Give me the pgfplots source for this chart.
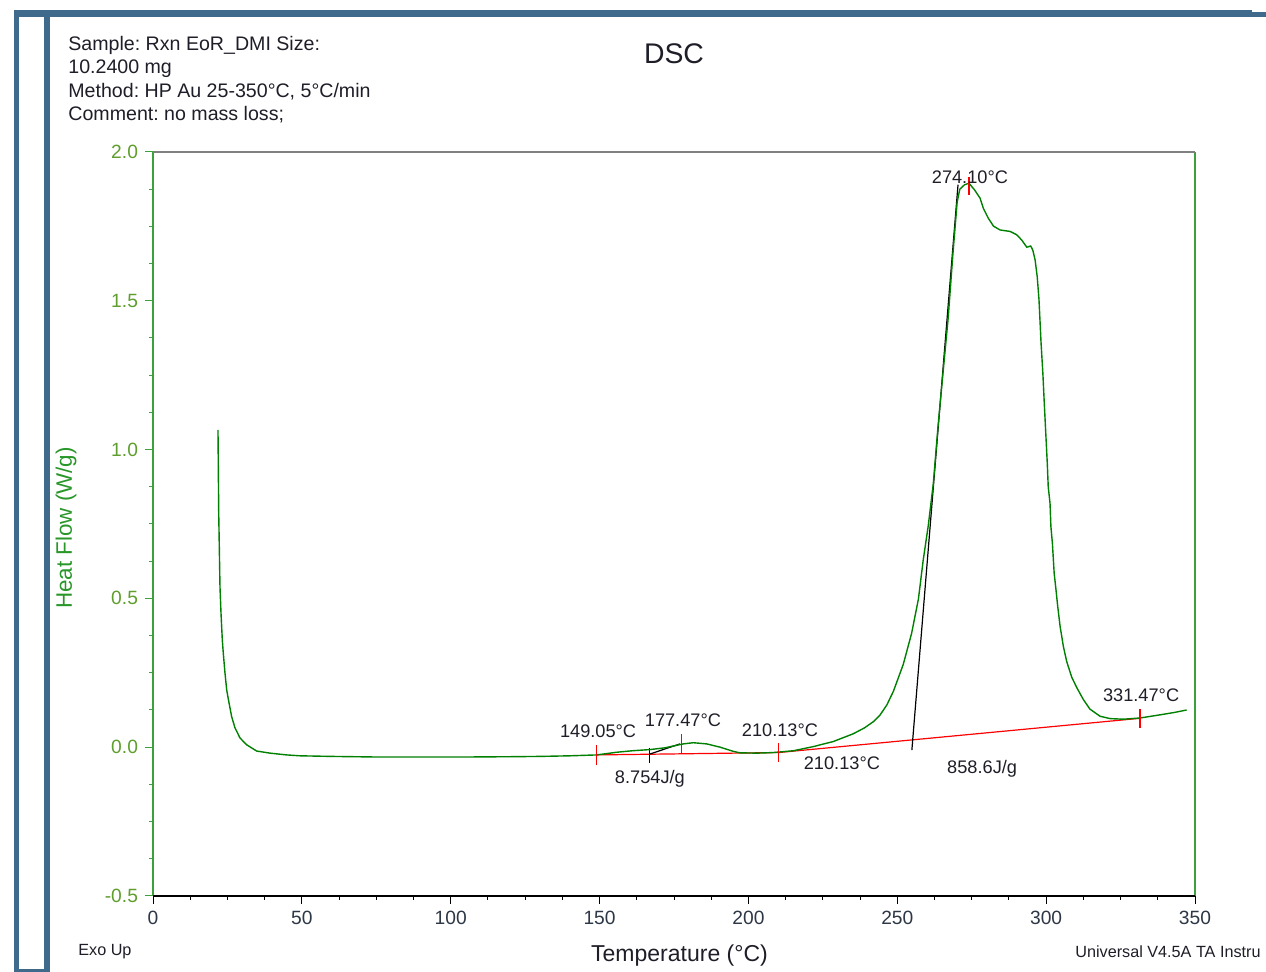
\documentclass[border=0pt]{standalone}
\usepackage{fontspec}
\setmainfont{Liberation Sans}
\usepackage{pgfplots}
\pgfplotsset{compat=1.18}
\definecolor{frameblue}{RGB}{63,106,139}
\definecolor{curvegreen}{RGB}{0,128,0}
\definecolor{axgreen}{RGB}{60,160,60}
\definecolor{lblgreen}{RGB}{40,150,40}
\definecolor{tickgreen}{RGB}{95,158,45}
\definecolor{txt}{RGB}{30,30,40}
\definecolor{xtl}{RGB}{45,55,70}
\definecolor{mred}{RGB}{255,0,0}
\frenchspacing
\begin{document}
\begin{tikzpicture}
\path[use as bounding box] (0,0) rectangle (633pt,486pt);
\clip (0,0) rectangle (633pt,486pt);
% frame
\fill[frameblue] (7pt,477.5pt) rectangle (626pt,481pt);
\fill[frameblue] (626pt,477.5pt) rectangle (633pt,480pt);
\fill[frameblue] (7pt,0pt) rectangle (9.5pt,481pt);
\fill[frameblue] (22pt,0pt) rectangle (25pt,481pt);
\fill[frameblue] (7pt,0pt) rectangle (25pt,1.5pt);
\begin{axis}[
  at={(76.5pt,38pt)}, anchor=south west,
  scale only axis, width=521pt, height=372pt,
  xmin=0, xmax=350, ymin=-0.5, ymax=2,
  axis line style={draw=none},
  xtick={0,50,...,350}, ytick={-0.5,0,0.5,1,1.5,2},
  minor x tick num=3, minor y tick num=3,
  xtick pos=bottom, ytick pos=left,
  tick align=outside,
  major tick length=4pt, minor tick length=1.8pt,
  xtick style={black, line width=0.5pt},
  ytick style={axgreen, line width=0.5pt},
  /pgf/number format/assume math mode=true,
  yticklabel style={/pgf/number format/.cd, fixed, fixed zerofill, precision=1, /tikz/.cd, font=\fontsize{9.6}{11}\selectfont, text=tickgreen},
  xticklabel style={font=\fontsize{9.6}{11}\selectfont, text=xtl},
  clip=false,
]
% baseline (red)
\addplot[mred, line width=0.6pt] coordinates {(149.05,-0.026) (210.13,-0.018) (331.47,0.097)};
% black construction lines
\addplot[black, line width=0.6pt] coordinates {(166.9,-0.023) (177.0,0.011)};
\addplot[black, line width=0.6pt] coordinates {(166.9,-0.003) (166.9,-0.053)};
\addplot[black, line width=0.6pt] coordinates {(254.9,-0.01) (270.4,1.89)};
% DSC curve
\addplot[curvegreen, line width=0.7pt] coordinates {
(21.83,1.066) (22.07,0.790) (22.5,0.538) (22.84,0.451) (23.28,0.360) (23.61,0.316)
(24.18,0.249) (24.76,0.192) (25.53,0.149) (26.44,0.102) (27.54,0.065) (29.22,0.031)
(31.47,0.008) (34.83,-0.013) (39.3,-0.020) (44.9,-0.026) (49.4,-0.029) (60,-0.031)
(75,-0.033) (90,-0.033) (105,-0.033) (120,-0.032) (130,-0.031) (140,-0.029)
(149,-0.026) (155.8,-0.017) (161,-0.012) (167.0,-0.008) (172,-0.002) (178.1,0.011)
(181.5,0.015) (186.0,0.011) (190.5,0.000) (194.9,-0.014) (197.2,-0.019) (203,-0.020)
(208.4,-0.018) (215.1,-0.012) (221.8,0.002) (228.5,0.019) (235.2,0.045) (239,0.065)
(242.0,0.086) (244.2,0.108) (246.5,0.142) (248.7,0.188) (252.0,0.278) (254.8,0.382) (257.1,0.498)
(258.7,0.628) (260.4,0.744) (262.1,0.886) (263.7,1.080) (265.4,1.262) (267.1,1.443)
(268.7,1.66) (270.1,1.831) (271.0,1.875) (272.6,1.890) (274.1,1.895) (276.0,1.872)
(277.8,1.845) (278.9,1.811) (280.6,1.777) (282.3,1.751) (284.5,1.738) (287.9,1.733)
(290.1,1.722) (291.8,1.704) (293.5,1.680) (294.8,1.684) (295.5,1.671) (296.3,1.637)
(297.0,1.581) (297.6,1.503) (298.3,1.357) (298.9,1.256) (299.4,1.15) (300.0,1.03)
(300.4,0.95) (300.7,0.875) (301.3,0.820) (301.6,0.741) (302.1,0.685) (302.7,0.584)
(303.2,0.539) (303.9,0.472) (304.7,0.405) (305.8,0.338) (306.9,0.288) (308.6,0.235)
(310.3,0.200) (312.5,0.160) (314.7,0.128) (318.1,0.104) (321.5,0.096) (325.9,0.094)
(331.5,0.098) (337.2,0.107) (342.7,0.116) (347.2,0.125)};
% red tick marks (on top)
\addplot[mred, line width=0.75pt] coordinates {(149.05,0.007) (149.05,-0.059)};
\addplot[mred, line width=0.75pt] coordinates {(177.47,0.044) (177.47,-0.020)};
\addplot[mred, line width=0.75pt] coordinates {(210.13,0.014) (210.13,-0.050)};
\addplot[mred, line width=0.75pt] coordinates {(331.47,0.129) (331.47,0.065)};
\addplot[mred, line width=0.75pt] coordinates {(274.10,1.917) (274.10,1.855)};
% annotations
\begin{scope}[font=\fontsize{9.1}{11}\selectfont, text=txt]
\node at (axis cs:149.5,0.054) {149.05°C};
\node at (axis cs:178.0,0.091) {177.47°C};
\node at (axis cs:210.6,0.058) {210.13°C};
\node at (axis cs:231.4,-0.053) {210.13°C};
\node at (axis cs:166.9,-0.107) {8.754J/g};
\node at (axis cs:278.5,-0.073) {858.6J/g};
\node at (axis cs:274.4,1.916) {274.10°C};
\node at (axis cs:331.9,0.175) {331.47°C};
\end{scope}
% frame lines
\draw[axgreen, line width=0.6pt] (rel axis cs:0,0) -- (rel axis cs:0,1);
\draw[axgreen, line width=0.6pt] (rel axis cs:1,0) -- (rel axis cs:1,1);
\draw[gray, line width=0.6pt] (rel axis cs:0,1) -- (rel axis cs:1,1);
\draw[black, line width=0.6pt] (rel axis cs:0,0) -- (rel axis cs:1,0);
\end{axis}
% texts
\begin{scope}[text=txt, inner sep=0pt]
\node[anchor=west, font=\fontsize{9.8}{11}\selectfont] at (34pt,463.5pt) {Sample: Rxn EoR\_DMI Size:};
\node[anchor=west, font=\fontsize{9.8}{11}\selectfont] at (34pt,451.5pt) {10.2400 mg};
\node[anchor=west, font=\fontsize{9.8}{11}\selectfont] at (34pt,440pt) {Method: HP Au 25-350°C, 5°C/min};
\node[anchor=west, font=\fontsize{9.8}{11}\selectfont] at (34pt,428.5pt) {Comment: no mass loss;};
\node[font=\fontsize{14.2}{16}\selectfont] at (337pt,459pt) {DSC};
\node[anchor=west, font=\fontsize{8.1}{10}\selectfont] at (39pt,10pt) {Exo Up};
\node[anchor=west, font=\fontsize{8.1}{10}\selectfont] at (537.5pt,10pt) {Universal V4.5A TA Instru};
\node[font=\fontsize{11.5}{13}\selectfont] at (339.75pt,8pt) {Temperature (°C)};
\node[rotate=90, font=\fontsize{11.2}{13}\selectfont, text=lblgreen] at (33pt,222pt) {Heat Flow (W/g)};
\end{scope}
\end{tikzpicture}
\end{document}
